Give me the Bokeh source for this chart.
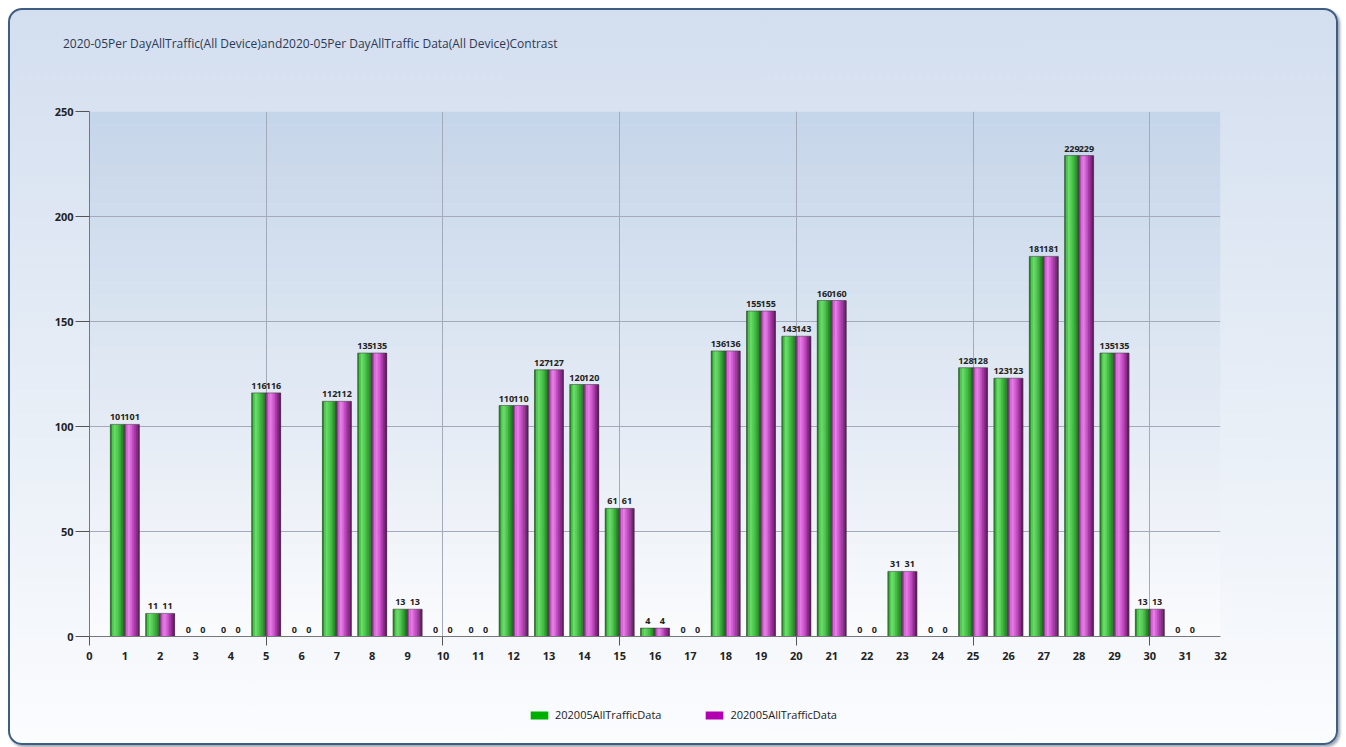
from bokeh.plotting import figure
from bokeh.models import Range1d, FixedTicker, Legend, LegendItem, Div
from bokeh.layouts import column
from bokeh.core.properties import value
from bokeh.embed import file_html
from bokeh.resources import INLINE

# ---- data ----
days = list(range(1, 32))
traffic = [101, 11, 0, 0, 116, 0, 112, 135, 13, 0, 0, 110, 127, 120, 61, 4, 0,
           136, 155, 143, 160, 0, 31, 0, 128, 123, 181, 229, 135, 13, 0]
traffic_data = [101, 11, 0, 0, 116, 0, 112, 135, 13, 0, 0, 110, 127, 120, 61, 4, 0,
                136, 155, 143, 160, 0, 31, 0, 128, 123, 181, 229, 135, 13, 0]
series_names = ["202005AllTrafficData", "202005AllTrafficData"]
series_colors = ["#00b000", "#b000b0"]
title_text = "2020-05Per DayAllTraffic(All Device)and2020-05Per DayAllTraffic Data(All Device)Contrast"
x_ticks = list(range(0, 33))
y_ticks = [0, 50, 100, 150, 200, 250]

FONT = "Open Sans"
W = 1326
H_TITLE, H_MAIN, H_LEG = 81, 599, 53


def bare(fig):
    fig.axis.visible = False
    fig.grid.visible = False
    fig.outline_line_color = None
    fig.border_fill_color = None
    fig.background_fill_color = None


# title block
title_div = Div(
    text=('<span style="display:inline-block; margin:26px 0 0 53px; font-family:\'Open Sans\'; '
          'font-size:12px; line-height:16px; color:#2c3a55; white-space:nowrap;">%s</span>' % title_text),
    width=W, height=H_TITLE, margin=0)

# main figure
p = figure(width=W, height=H_MAIN, output_backend="svg", toolbar_location=None,
           x_range=Range1d(0, 32), y_range=Range1d(0, 250),
           min_border_left=79, min_border_right=116, min_border_top=20, min_border_bottom=54)
p.border_fill_color = None
p.background_fill_color = None
p.outline_line_color = None

# plot-area gradient (bands)
nb = 40
top_c = (198, 214, 234)
bot_c = (250, 251, 253)
band_b, band_t, band_col = [], [], []
for i in range(nb):
    f = i / (nb - 1)
    r = int(bot_c[0] + (top_c[0] - bot_c[0]) * f)
    g = int(bot_c[1] + (top_c[1] - bot_c[1]) * f)
    b = int(bot_c[2] + (top_c[2] - bot_c[2]) * f)
    band_b.append(250 * i / nb)
    band_t.append(250 * (i + 1) / nb)
    band_col.append("#%02x%02x%02x" % (r, g, b))
p.quad(left=0, right=32, bottom=band_b, top=band_t, fill_color=band_col, line_color=None, level="image")

# grid
p.xgrid.ticker = FixedTicker(ticks=[0, 5, 10, 15, 20, 25, 30])
p.ygrid.ticker = FixedTicker(ticks=y_ticks)
p.xgrid.grid_line_color = "#a3abba"
p.ygrid.grid_line_color = "#a3abba"
p.xgrid.level = "underlay"
p.ygrid.level = "underlay"

# bars with cylinder-like stripes
bw = 0.41
green_cols = ["#2e8e2e", "#4ec84e", "#68da68", "#58d058", "#46c046", "#38aa38", "#2c8e2c", "#206e20"]
purple_cols = ["#b040b0", "#d868d8", "#e27ce2", "#d862d8", "#c24ec2", "#a83aa8", "#8a2c8a", "#661d66"]
ns = len(green_cols)
for vals, cols, sign in [(traffic, green_cols, -1), (traffic_data, purple_cols, 1)]:
    centers = [d + sign * bw / 2 for d in days]
    for j in range(ns):
        xs = [c - bw / 2 + (j + 0.5) * bw / ns for c in centers]
        p.vbar(x=xs, top=vals, bottom=0, width=bw / ns + 0.012, fill_color=cols[j], line_color=None)
    p.vbar(x=centers, top=vals, bottom=0, width=bw, fill_color=None, line_color="#333333", line_width=0.7, line_alpha=0.7)
    p.text(x=centers, y=vals, text=[str(v) for v in vals], text_align="center", text_baseline="bottom",
           y_offset=-4, text_font=value(FONT), text_font_size="9px", text_font_style="bold", text_color="#222222")

# axes
p.xaxis.ticker = FixedTicker(ticks=x_ticks, minor_ticks=[0, 5, 10, 15, 20, 25, 30])
p.xaxis.major_tick_line_color = None
p.xaxis.minor_tick_line_color = "#555555"
p.xaxis.minor_tick_out = 9
p.xaxis.minor_tick_in = 0
p.xaxis.axis_line_color = "#777777"
p.xaxis.major_label_text_font = FONT
p.xaxis.major_label_text_font_size = "11px"
p.xaxis.major_label_text_font_style = "bold"
p.xaxis.major_label_text_color = "#222222"
p.xaxis.major_label_standoff = 6

p.yaxis.ticker = FixedTicker(ticks=y_ticks)
p.yaxis.minor_tick_line_color = None
p.yaxis.major_tick_line_color = "#555555"
p.yaxis.major_tick_out = 14
p.yaxis.major_tick_in = 0
p.yaxis.axis_line_color = "#777777"
p.yaxis.major_label_text_font = FONT
p.yaxis.major_label_text_font_size = "11px"
p.yaxis.major_label_text_font_style = "bold"
p.yaxis.major_label_text_color = "#222222"
p.yaxis.major_label_standoff = 2

# legend figure
pl = figure(width=W, height=H_LEG, output_backend="svg", toolbar_location=None,
            x_range=Range1d(0, 1), y_range=Range1d(0, 1),
            min_border_left=0, min_border_right=0, min_border_top=0, min_border_bottom=0)
bare(pl)
r1 = pl.vbar(x=[0.5], top=[-2], bottom=[-3], width=0.1, fill_color=series_colors[0], line_color=None)
r2 = pl.vbar(x=[0.5], top=[-2], bottom=[-3], width=0.1, fill_color=series_colors[1], line_color=None)
legend = Legend(items=[LegendItem(label=series_names[0], renderers=[r1]),
                       LegendItem(label=series_names[1], renderers=[r2])],
                orientation="horizontal", location=(439, 21),
                background_fill_alpha=0, border_line_color=None,
                label_text_font=FONT, label_text_font_size="11px", label_text_color="#222222",
                glyph_width=22, glyph_height=10, spacing=42, label_standoff=5)
pl.add_layout(legend, "center")

layout = column(title_div, p, pl, spacing=0)
layout.styles = {
    "background": "linear-gradient(to bottom, #d3deef 0%, #e6edf6 50%, #fbfcfe 100%)",
    "border": "2px solid #3e5d82",
    "border-radius": "14px",
    "box-shadow": "2px 2px 3px #9aa3ad",
    "margin": "8px 0 0 8px",
}

open("out.html", "w").write(file_html(layout, INLINE))
